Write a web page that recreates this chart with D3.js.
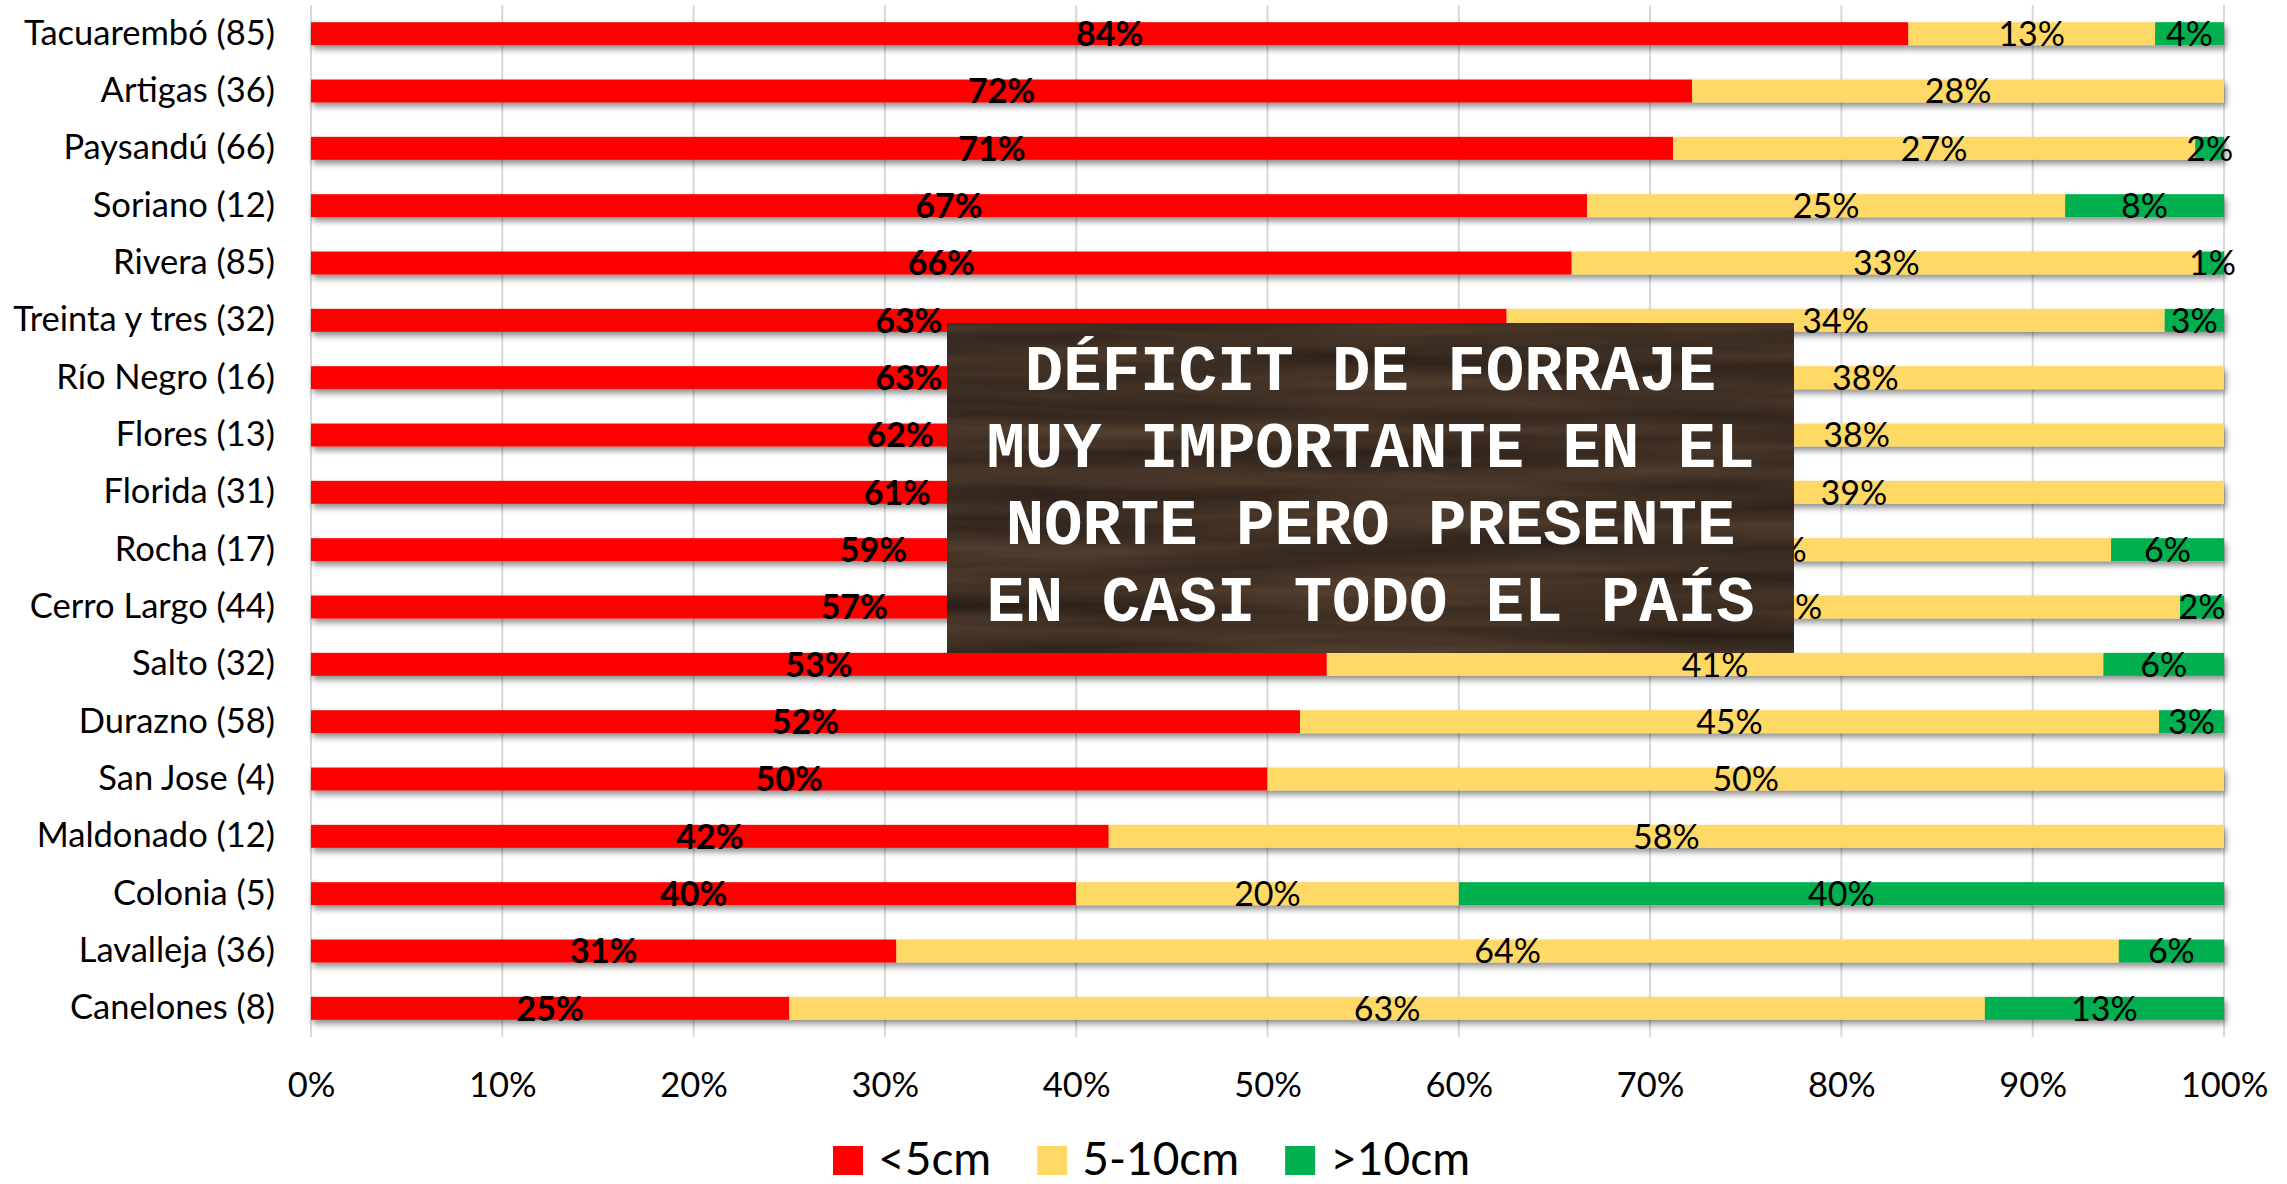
<!DOCTYPE html>
<html>
<head>
    <meta charset="utf-8">
    <title>Deficit de forraje</title>
    <style>
        body {
            margin: 0;
            background-color: #fff;
        }
        svg {
            display: block;
        }
        text {
            font-family: Lato, "Open Sans", sans-serif;
            fill: #000;
        }
        .grid line {
            stroke: #d9d9d9;
            stroke-width: 2px;
        }
        .cat text, .tick-label {
            font-size: 34.5px;
        }
        .value {
            font-size: 34px;
            text-anchor: middle;
        }
        .value.low { font-weight: bold; }
        .legend text { font-size: 46px; }
        .banner text {
            font-family: "Liberation Mono", "DejaVu Sans Mono", monospace;
            font-weight: bold;
            font-size: 64px;
            fill: #fff;
            text-anchor: middle;
        }
    </style>
</head>
<body>
<svg id="chart" width="2287" height="1184"></svg>
<script src="https://d3js.org/d3.v7.min.js"></script>
<script>
    // departments, top to bottom (number of answers in brackets)
    const categories = [
        "Tacuarembó (85)", "Artigas (36)", "Paysandú (66)", "Soriano (12)",
        "Rivera (85)", "Treinta y tres (32)", "Río Negro (16)", "Flores (13)",
        "Florida (31)", "Rocha (17)", "Cerro Largo (44)", "Salto (32)",
        "Durazno (58)", "San Jose (4)", "Maldonado (12)", "Colonia (5)",
        "Lavalleja (36)", "Canelones (8)"];

    // share of answers per forage height, in %
    const under5 = [83.5, 72.2, 71.2, 66.7, 65.9, 62.5, 62.5, 61.6, 61.3,
                    58.8, 56.8, 53.1, 51.7, 50, 41.7, 40, 30.6, 25];
    const from5to10 = [12.9, 27.8, 27.3, 25, 32.9, 34.4, 37.5, 38.4, 38.7,
                       35.3, 40.9, 40.6, 44.9, 50, 58.3, 20, 63.9, 62.5];
    const over10 = [3.6, 0, 1.5, 8.3, 1.2, 3.1, 0, 0, 0,
                    5.9, 2.3, 6.3, 3.4, 0, 0, 40, 5.5, 12.5];

    const seriesKeys = ["low", "mid", "high"];
    const seriesNames = ["<5cm", "5-10cm", ">10cm"];
    const seriesColors = ["#ff0000", "#ffd966", "#00b050"];
    const tickValues = [0, 10, 20, 30, 40, 50, 60, 70, 80, 90, 100];
    const bannerLines = ["DÉFICIT DE FORRAJE", "MUY IMPORTANTE EN EL",
                         "NORTE PERO PRESENTE", "EN CASI TODO EL PAÍS"];

    const W = 2287, H = 1184;
    const plot = {left: 311, right: 2224, top: 5, bottom: 1037};

    const svg = d3.select("#chart");

    const rows = categories.map((c, i) => ({
        name: c, low: under5[i], mid: from5to10[i], high: over10[i]
    }));

    const x = d3.scaleLinear().domain([0, 100]).range([plot.left, plot.right]);
    const y = d3.scaleBand().domain(categories)
        .range([plot.top, plot.bottom])
        .paddingInner(0.6).paddingOuter(0.3);
    const color = d3.scaleOrdinal().domain(seriesKeys).range(seriesColors);

    const defs = svg.append("defs");
    defs.append("filter").attr("id", "shadow")
        .attr("x", "-5%").attr("y", "-40%").attr("width", "110%").attr("height", "200%")
      .append("feDropShadow")
        .attr("dx", 2).attr("dy", 4).attr("stdDeviation", 3)
        .attr("flood-color", "#000").attr("flood-opacity", 0.45);

    // wood grain for the banner
    const wood = defs.append("filter").attr("id", "wood")
        .attr("color-interpolation-filters", "sRGB")
        .attr("x", 0).attr("y", 0).attr("width", "100%").attr("height", "100%");
    wood.append("feTurbulence")
        .attr("type", "fractalNoise")
        .attr("baseFrequency", "0.0025 0.045")
        .attr("numOctaves", 3).attr("seed", 7)
        .attr("result", "noise");
    wood.append("feColorMatrix").attr("in", "noise")
        .attr("type", "matrix")
        .attr("values", "0.22 0 0 0 0.135  0.17 0 0 0 0.1  0.12 0 0 0 0.08  0 0 0 0 1")
        .attr("result", "grain");
    wood.append("feComposite").attr("in", "grain").attr("in2", "SourceGraphic")
        .attr("operator", "in");

    // vertical gridlines
    svg.append("g").attr("class", "grid")
        .selectAll("line").data(tickValues).join("line")
        .attr("x1", d => x(d)).attr("x2", d => x(d))
        .attr("y1", plot.top).attr("y2", plot.bottom);

    // category axis
    const yAxis = svg.append("g").attr("class", "cat")
        .attr("transform", `translate(${plot.left},0)`)
        .call(d3.axisLeft(y).tickSize(0).tickPadding(36));
    yAxis.select(".domain").remove();
    yAxis.selectAll("text").attr("dy", "0.32em");

    // value axis labels
    const xAxis = svg.append("g")
        .attr("transform", `translate(0,${plot.bottom})`)
        .call(d3.axisBottom(x).tickValues(tickValues).tickSize(0).tickFormat(d => d + "%"));
    xAxis.select(".domain").remove();
    xAxis.selectAll("text").attr("class", "tick-label")
        .attr("y", 0).attr("dy", 60);
    xAxis.attr("font-size", null).attr("font-family", null);
    yAxis.attr("font-size", null).attr("font-family", null);

    // stacked bars
    const stacked = d3.stack().keys(seriesKeys)(rows);

    svg.append("g").attr("filter", "url(#shadow)")
        .selectAll("g").data(stacked).join("g")
        .attr("fill", d => color(d.key))
        .selectAll("rect").data(d => d).join("rect")
        .attr("x", d => x(d[0]))
        .attr("y", d => y(d.data.name))
        .attr("width", d => x(d[1]) - x(d[0]))
        .attr("height", y.bandwidth());

    // value labels
    const labels = svg.append("g");
    stacked.forEach(s => {
        labels.selectAll(null)
            .data(s.filter(d => d[1] - d[0] > 0))
            .join("text")
            .attr("class", "value " + s.key)
            .attr("x", d => x((d[0] + d[1]) / 2))
            .attr("y", d => y(d.data.name) + y.bandwidth() / 2)
            .attr("dy", "0.36em")
            .text(d => Math.round(d[1] - d[0]) + "%");
    });

    // legend
    const legend = svg.append("g").attr("class", "legend");
    const items = legend.selectAll("g").data(seriesNames).join("g");
    items.append("rect")
        .attr("width", 30).attr("height", 29)
        .attr("y", -29)
        .attr("fill", (d, i) => seriesColors[i]);
    items.append("text").attr("x", 45).text(d => d);
    let cursor = 0;
    items.each(function() {
        d3.select(this).attr("transform", `translate(${cursor},0)`);
        cursor += this.getBBox().width + 46;
    });
    cursor -= 46;
    legend.attr("transform", `translate(${W / 2 + 8 - cursor / 2},1175)`);

    // banner over the chart
    const banner = svg.append("g").attr("class", "banner");
    const box = {x: 947, y: 323, w: 847, h: 330};
    banner.append("rect")
        .attr("x", box.x).attr("y", box.y)
        .attr("width", box.w).attr("height", box.h)
        .attr("fill", "#3e2e22")
        .attr("filter", "url(#wood)");
    banner.selectAll("text").data(bannerLines).join("text")
        .attr("x", box.x + box.w / 2)
        .attr("y", (d, i) => box.y + 67 + i * 77)
        .text(d => d);
</script>
</body>
</html>
